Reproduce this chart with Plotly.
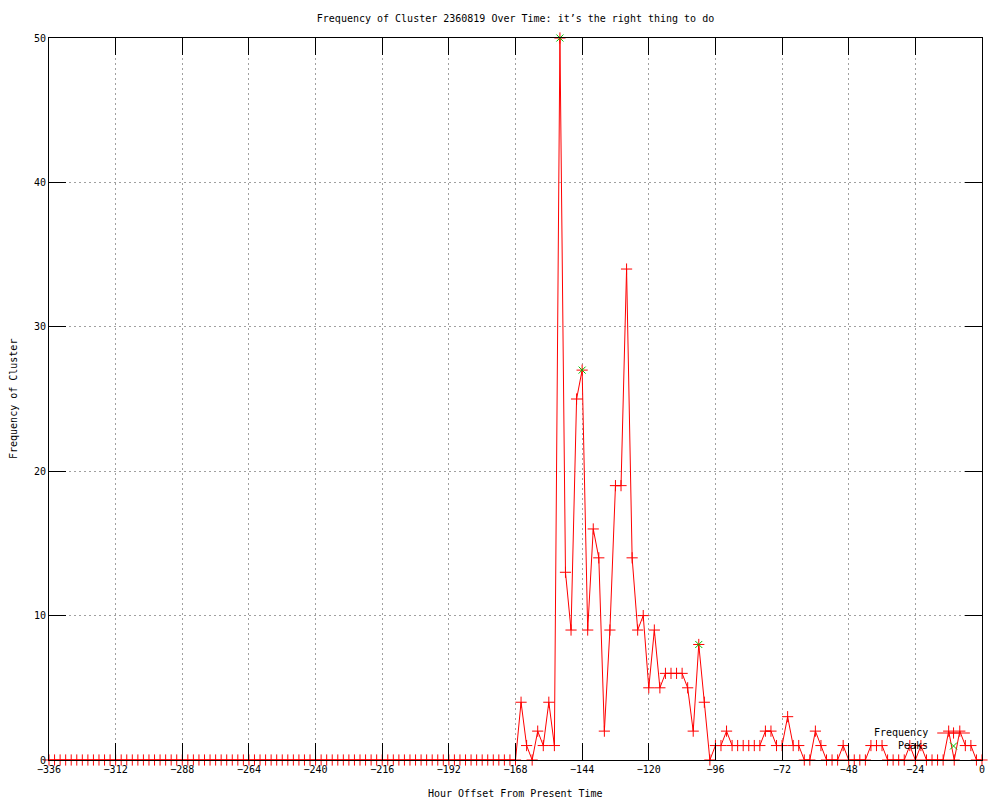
import plotly.graph_objects as go

# ---- data ----
hours = list(range(-336, 1, 2))
freq_early = [0] * 84  # -336 .. -170
freq_late = [0, 4, 1, 0, 2, 1, 4, 1, 50,            # -168 .. -152
             13, 9, 25, 27, 9, 16, 14, 2, 9, 19, 19, 34, 14, 9, 10, 5, 9, 5,
             6, 6, 6, 6, 5, 2, 8, 4,                # -150 .. -100
             0, 1, 1, 2, 1, 1, 1, 1, 1, 1, 2, 2, 1, 1, 3, 1, 1, 0, 0, 2, 1,
             0, 0, 0, 1,                            # -98 .. -50
             0, 0, 0, 0, 1, 1, 1, 0, 0, 0, 0, 1, 0, 1, 0, 0, 0, 0, 2, 0, 2,
             1, 1, 0, 0]                            # -48 .. 0
frequency = freq_early + freq_late
peak_hours = [-152, -144, -102]
peak_values = [50, 27, 8]
x_ticks = list(range(-336, 1, 24))
y_ticks = [0, 10, 20, 30, 40, 50]

FONT = "DejaVu Sans Mono"
RED = "#ff0000"
GREEN = "#00c000"

fig = go.Figure()
fig.add_trace(go.Scatter(
    x=hours, y=frequency, mode="lines+markers", name="Frequency",
    line=dict(color=RED, width=1),
    marker=dict(symbol="cross-thin", size=8, line=dict(color=RED, width=1)),
    cliponaxis=False, showlegend=False))
fig.add_trace(go.Scatter(
    x=peak_hours, y=peak_values, mode="markers", name="Peaks",
    marker=dict(symbol="x-thin", size=7, line=dict(color=GREEN, width=1)),
    cliponaxis=False, showlegend=False))

# legend keys (decoration) on an overlay axis in plot-fraction units
key_x = [0.952, 0.9695, 0.987]
fig.add_trace(go.Scatter(
    x=key_x, y=[0.0374] * 3, xaxis="x2", yaxis="y2", mode="lines",
    line=dict(color=RED, width=1), showlegend=False, hoverinfo="skip", cliponaxis=False))
fig.add_trace(go.Scatter(
    x=[key_x[1]], y=[0.0374], xaxis="x2", yaxis="y2", mode="markers",
    marker=dict(symbol="cross-thin", size=8, line=dict(color=RED, width=1)),
    showlegend=False, hoverinfo="skip", cliponaxis=False))
fig.add_trace(go.Scatter(
    x=[key_x[1]], y=[0.0194], xaxis="x2", yaxis="y2", mode="markers",
    marker=dict(symbol="x-thin", size=7, line=dict(color=GREEN, width=1)),
    showlegend=False, hoverinfo="skip", cliponaxis=False))

axis_common = dict(
    showline=True, linecolor="black", linewidth=1, mirror="ticks",
    ticks="inside", ticklen=17, tickcolor="black", tickwidth=1,
    showgrid=True, gridcolor="#a0a0a0", griddash="2px,3px", gridwidth=1,
    zeroline=False, automargin=False,
    tickfont=dict(family=FONT, size=10, color="black"),
)

fig.update_layout(
    width=1000, height=800,
    margin=dict(l=49, r=18, t=38, b=40, autoexpand=False),
    paper_bgcolor="white", plot_bgcolor="white",
    font=dict(family=FONT, size=10, color="black"),
    title=dict(text="Frequency of Cluster 2360819 Over Time: it\u2019s the right thing to do",
               x=0.5155, xanchor="center", y=1 - 18 / 800, yanchor="middle",
               font=dict(family=FONT, size=10, color="black")),
    xaxis=dict(range=[-336, 0], tickvals=x_ticks, **axis_common),
    yaxis=dict(range=[0, 50], tickvals=y_ticks, **axis_common),
    xaxis2=dict(overlaying="x", range=[0, 1], visible=False, fixedrange=True),
    yaxis2=dict(overlaying="y", range=[0, 1], visible=False, fixedrange=True),
    showlegend=False,
    annotations=[
        dict(text="Hour Offset From Present Time", xref="paper", yref="paper",
             x=0.5, y=0, yanchor="middle", yshift=-33, showarrow=False,
             font=dict(family=FONT, size=10, color="black")),
        dict(text="Frequency of Cluster", xref="paper", yref="paper",
             x=0, y=0.5, xanchor="center", yanchor="middle", xshift=-36,
             textangle=-90, showarrow=False,
             font=dict(family=FONT, size=10, color="black")),
        dict(text="Frequency", xref="paper", yref="paper", x=0.944, y=0.0374,
             xanchor="right", yanchor="middle", showarrow=False,
             font=dict(family=FONT, size=10, color="black")),
        dict(text="Peaks", xref="paper", yref="paper", x=0.944, y=0.0194,
             xanchor="right", yanchor="middle", showarrow=False,
             font=dict(family=FONT, size=10, color="black")),
    ],
)

fig.write_html("out.html",
               config={"displayModeBar": False},
               post_script="document.body.style.margin='0';document.body.style.padding='0';")
